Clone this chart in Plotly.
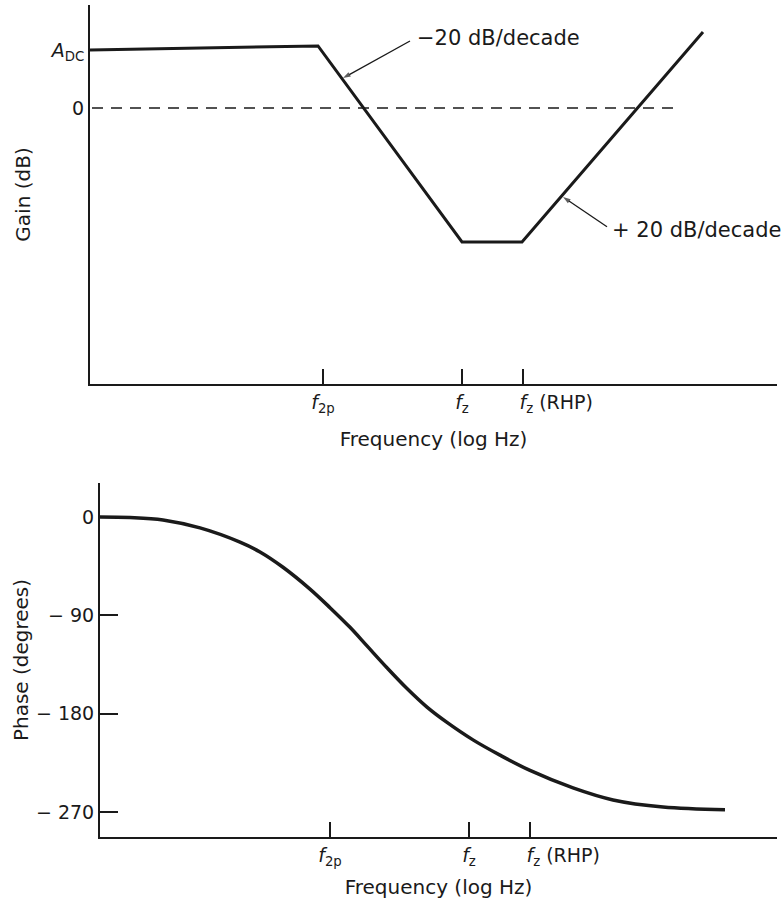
import plotly.graph_objects as go

# ---------------- data ----------------
# frequency axis in log units (arbitrary decades)
tick_pos = [2.33, 3.72, 4.33]
tick_labels = ["<i>f</i><sub>2p</sub>", "<i>f</i><sub>z</sub>",
               "\u00a0" * 11 + "<i>f</i><sub>z</sub> (RHP)"]

# gain (dB) asymptotic magnitude
gain_x = [0.0, 2.28, 3.72, 4.32, 6.13]
gain_db = [20.0, 21.4, -46.2, -46.2, 26.2]
zero_x = [0.02, 5.88]
zero_db = [0.0, 0.0]
gain_tick_vals = [20, 0]
gain_tick_text = ["<i>A</i><sub>DC</sub>", "0"]

# slope call-out pointers (tail -> tip)
ptr1_x = [3.20, 2.53]
ptr1_db = [23.1, 10.3]
ptr2_x = [5.17, 4.73]
ptr2_db = [-41.0, -30.7]

# phase (degrees)
phase_x = [0.03, 0.33, 0.66, 1.03, 1.43, 1.63, 1.86, 2.13, 2.33, 2.53, 2.70, 2.90,
           3.10, 3.30, 3.50, 3.76, 4.03, 4.33, 4.76, 5.16, 5.66, 6.28]
phase_deg = [0, -0.5, -2.7, -10, -23, -32, -46, -66, -83, -101, -118, -138,
             -157, -174, -188, -204, -218, -232, -248, -259, -265.5, -268]
phase_tick_vals = [0, -90, -180, -270]
phase_tick_text = ["0", "\u2212 90", "\u2212 180", "\u2212 270"]

FONT = "DejaVu Sans"
INK = "#1a1a1a"
W, H = 782, 907

fig = go.Figure()
fig.add_trace(go.Scatter(x=gain_x, y=gain_db, mode="lines",
                         line=dict(color=INK, width=3),
                         xaxis="x", yaxis="y", showlegend=False, hoverinfo="skip"))
fig.add_trace(go.Scatter(x=zero_x, y=zero_db, mode="lines",
                         line=dict(color=INK, width=1.5, dash="11px,8px"),
                         xaxis="x", yaxis="y", showlegend=False, hoverinfo="skip"))
for px, py in ((ptr1_x, ptr1_db), (ptr2_x, ptr2_db)):
    fig.add_trace(go.Scatter(x=px, y=py, mode="lines+markers",
                             line=dict(color=INK, width=1.3),
                             marker=dict(symbol="arrow", size=[0, 8], angleref="previous",
                                         color=INK, line=dict(width=0)),
                             xaxis="x", yaxis="y", showlegend=False, hoverinfo="skip"))
fig.add_trace(go.Scatter(x=phase_x, y=phase_deg, mode="lines",
                         line=dict(color=INK, width=3.5, shape="spline", smoothing=1.0),
                         xaxis="x2", yaxis="y2", showlegend=False, hoverinfo="skip"))

axis_common = dict(showgrid=False, zeroline=False, showline=True,
                   linecolor=INK, linewidth=2, mirror=False, automargin=False,
                   tickfont=dict(family=FONT, size=19, color=INK))
xaxis_common = dict(axis_common, tickmode="array", tickvals=tick_pos, ticktext=tick_labels,
                    tickangle=0, ticks="inside", ticklen=15, tickwidth=1.5, tickcolor=INK)

fig.update_layout(
    width=W, height=H,
    margin=dict(l=0, r=0, t=0, b=0),
    paper_bgcolor="white", plot_bgcolor="white",
    font=dict(family=FONT, size=19, color=INK),
    xaxis=dict(xaxis_common, domain=[90 / W, 777 / W], range=[0, 6.87], anchor="y",
               title=dict(text="Frequency (log Hz)", font=dict(family=FONT, size=20),
                          standoff=17)),
    yaxis=dict(axis_common, domain=[1 - 384 / H, 1 - 5 / H], range=[-95.2, 35.5],
               anchor="x", tickmode="array", tickvals=gain_tick_vals, ticktext=gain_tick_text,
               ticks="", title=dict(text="Gain (dB)", font=dict(family=FONT, size=20),
                                    standoff=14)),
    xaxis2=dict(xaxis_common, domain=[100 / W, 777 / W], range=[0.03, 6.80], anchor="y2",
                title=dict(text="Frequency (log Hz)", font=dict(family=FONT, size=20),
                           standoff=12)),
    yaxis2=dict(axis_common, domain=[1 - 837 / H, 1 - 483 / H], range=[-292.9, 31.1],
                anchor="x2", tickmode="array", tickvals=phase_tick_vals,
                ticktext=phase_tick_text, ticks="inside", ticklen=18, tickwidth=1.5,
                tickcolor=INK,
                title=dict(text="Phase (degrees)", font=dict(family=FONT, size=20),
                           standoff=2)),
)

fig.add_annotation(x=3.25, y=24.1, xref="x", yref="y", text="\u221220 dB/decade",
                   showarrow=False, xanchor="left", yanchor="middle",
                   font=dict(family=FONT, size=21, color=INK))
fig.add_annotation(x=5.20, y=-42.1, xref="x", yref="y", text="+ 20 dB/decade",
                   showarrow=False, xanchor="left", yanchor="middle",
                   font=dict(family=FONT, size=21, color=INK))

fig.write_html("out.html", config={"displayModeBar": False},
               post_script="document.body.style.margin='0';")
